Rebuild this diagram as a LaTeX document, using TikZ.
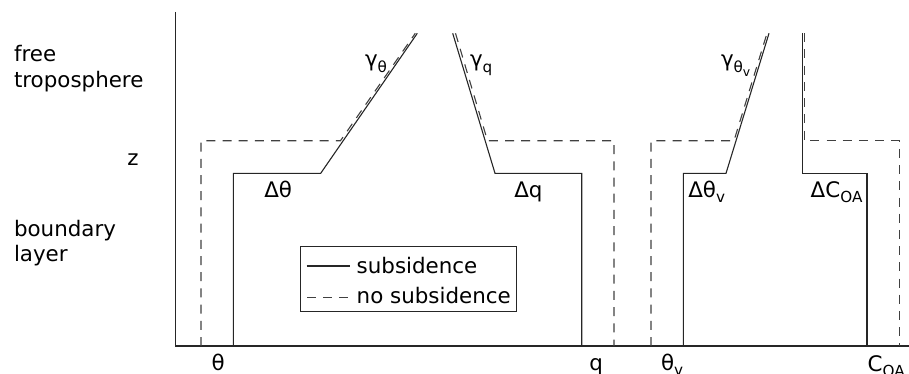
\documentclass[tikz,border=0pt]{standalone}
\usepackage{fontspec}
\setmainfont{DejaVu Sans}
\newcommand{\lsub}[1]{\raisebox{-0.45ex}{\fontsize{7.6}{8}\selectfont #1}}
\newcommand{\llsub}[1]{\raisebox{-0.45ex}{\fontsize{6.2}{7}\selectfont #1}}
\begin{document}
\begin{tikzpicture}[x=0.5pt,y=-0.5pt,
  font=\fontsize{10.7}{12.8}\selectfont,
  prof/.style={line width=0.55pt, black!85},
  noprof/.style={line width=0.55pt, black!75, dash pattern=on 4.5pt off 3.6pt},
  lbl/.style={inner sep=0pt, outer sep=0pt}]
\useasboundingbox (0,0) rectangle (909,374);
% axes
\coordinate (ytop) at (175.7,12);
\coordinate (origin) at (175.7,346);
\coordinate (xend) at (909,346);
\draw[prof] (ytop) -- (origin) -- (xend);
% theta profile
\coordinate (t1) at (233.3,346);
\coordinate (t2) at (233.3,173.3);
\coordinate (t3) at (320.7,173.3);
\coordinate (t4) at (417.3,33.3);
\draw[prof] (t1) -- (t2) -- (t3) -- (t4);
\coordinate (td1) at (201,346);
\coordinate (td2) at (201,140.7);
\coordinate (td3) at (340.5,140.7);
\coordinate (td4) at (415.3,33.3);
\draw[noprof] (td1) -- (td2) -- (td3) -- (td4);
% q profile
\coordinate (q1) at (452.7,33.3);
\coordinate (q2) at (495,173.3);
\coordinate (q3) at (581.7,173.3);
\coordinate (q4) at (581.7,346);
\draw[prof] (q1) -- (q2) -- (q3) -- (q4);
\coordinate (qd1) at (455.5,33.3);
\coordinate (qd2) at (487.5,140.7);
\coordinate (qd3) at (614,140.7);
\coordinate (qd4) at (614,346);
\draw[noprof] (qd1) -- (qd2) -- (qd3) -- (qd4);
% theta_v profile
\coordinate (v1) at (683.3,346);
\coordinate (v2) at (683.3,173.3);
\coordinate (v3) at (726,173.3);
\coordinate (v4) at (769,33.3);
\draw[prof] (v1) -- (v2) -- (v3) -- (v4);
\coordinate (vd1) at (651,346);
\coordinate (vd2) at (651,140.7);
\coordinate (vd3) at (734,140.7);
\coordinate (vd4) at (767,33.3);
\draw[noprof] (vd1) -- (vd2) -- (vd3) -- (vd4);
% C_OA profile
\coordinate (c1) at (802.3,33.3);
\coordinate (c2) at (802.3,173.3);
\coordinate (c3) at (867,173.3);
\coordinate (c4) at (867,346);
\draw[prof] (c1) -- (c2) -- (c3) -- (c4);
\coordinate (cd1) at (804.3,33.3);
\coordinate (cd2) at (804.3,140.7);
\coordinate (cd3) at (899.3,140.7);
\coordinate (cd4) at (899.3,346);
\draw[noprof] (cd1) -- (cd2) -- (cd3) -- (cd4);
% legend
\coordinate (legA) at (300.7,246.7);
\coordinate (legB) at (516.7,311.7);
\draw[prof] (legA) rectangle (legB);
\coordinate (ls1) at (306.7,266);
\coordinate (ls2) at (350,266);
\draw[prof] (ls1) -- (ls2);
\coordinate (ld1) at (307,297.7);
\coordinate (ld2) at (348,297.7);
\draw[noprof, dash pattern=on 4.5pt off 3.5pt] (ld1) -- (ld2);
\node[lbl, anchor=base west] (legsub) at (356.7,273.3) {subsidence};
\node[lbl, anchor=base west] (legnosub) at (356.7,303.3) {no subsidence};
% left labels
\node[lbl, anchor=base west] (free) at (14,61.7) {free};
\node[lbl, anchor=base west] (tropo) at (14,87.3) {troposphere};
\node[lbl, anchor=base] (z) at (133,165.7) {z};
\node[lbl, anchor=base west] (bl1) at (14,236.7) {boundary};
\node[lbl, anchor=base west] (bl2) at (14,261.7) {layer};
% jump labels
\node[lbl, anchor=base west] (dtheta) at (264.3,197.3) {Δθ};
\node[lbl, anchor=base west] (dq) at (514.3,197.3) {Δq};
\node[lbl, anchor=base west] (dthetav) at (688.3,197.3) {Δθ\lsub{v}};
\node[lbl, anchor=base west] (dcoa) at (810.7,197.3) {ΔC\lsub{OA}};
% lapse labels
\node[lbl, anchor=base west] (gtheta) at (365,67) {γ\lsub{θ}};
\node[lbl, anchor=base west] (gq) at (470,67) {γ\lsub{q}};
\node[lbl, anchor=base west] (gthetav) at (721,67) {γ\lsub{θ\llsub{v}}};
% axis labels
\node[lbl, anchor=base west] (xtheta) at (211.7,370.7) {θ};
\node[lbl, anchor=base west] (xq) at (589.3,370.7) {q};
\node[lbl, anchor=base west] (xthetav) at (661,370.7) {θ\lsub{v}};
\node[lbl, anchor=base west] (xcoa) at (867.7,371) {C\lsub{OA}};
\end{tikzpicture}
\end{document}
